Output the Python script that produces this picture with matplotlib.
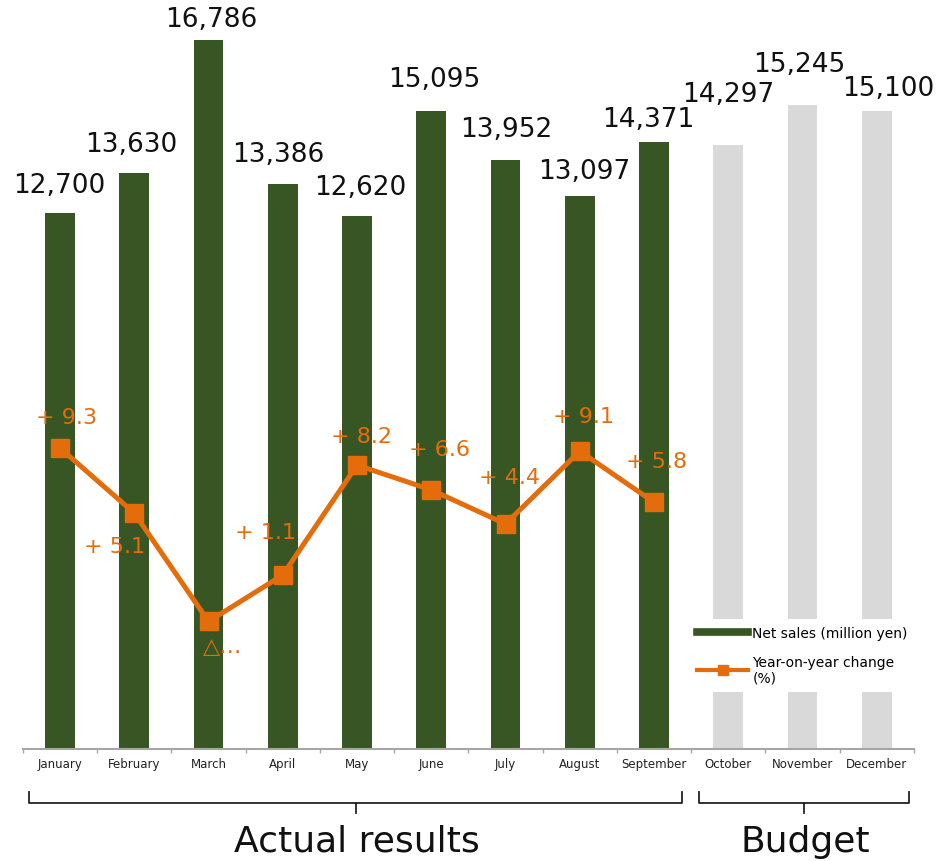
import matplotlib

matplotlib.use("Agg")
import matplotlib.pyplot as plt
import matplotlib.transforms as mtransforms
from matplotlib.lines import Line2D

months = ["January", "February", "March", "April", "May", "June", "July",
          "August", "September", "October", "November", "December"]
net_sales = [12700, 13630, 16786, 13386, 12620, 15095, 13952, 13097, 14371,
             14297, 15245, 15100]
n_actual = 9
yoy_change = [9.3, 5.1, -1.9, 1.1, 8.2, 6.6, 4.4, 9.1, 5.8]
yoy_labels = ["+ 9.3", "+ 5.1", "△…", "+ 1.1", "+ 8.2", "+ 6.6", "+ 4.4",
              "+ 9.1", "+ 5.8"]

GREEN = "#375623"
GREY = "#d9d9d9"
ORANGE = "#e46c0a"

# label nudges in pixels (dx, dy)
sales_nudge = [(-1, 28), (-3, 29), (3, 21), (-5, 30), (3, 29), (3, 32),
               (1, 31), (4, 25), (-6, 23), (0, 51), (-3, 41), (11, 23)]
yoy_nudge = [(6, 31), (-20, -33), (14, -25), (-17, 43), (4, 29), (8, 41),
             (4, 47), (4, 35), (3, 41)]

W, H = 937, 862
fig = plt.figure(figsize=(W / 100, H / 100), dpi=100)
ax = fig.add_axes([22.9 / W, 1 - 750 / H, 891 / W, 750 / H])
ax2 = ax.twinx()

x = list(range(len(months)))
colors = [GREEN] * n_actual + [GREY] * (len(months) - n_actual)
ax.bar(x, net_sales, width=0.40, color=colors, zorder=2)
ax.set_xlim(-0.5, len(months) - 0.5)
ax.set_ylim(0, 17756)

for i, v in enumerate(net_sales):
    dx, dy = sales_nudge[i]
    ax.annotate(f"{v:,}", (i, v), xytext=(dx, dy), textcoords="offset pixels",
                ha="center", va="center", fontsize=19, color="#111111")

ax2.plot(x[:n_actual], yoy_change, color=ORANGE, lw=3.6, marker="s",
         markersize=13, zorder=3)
ax2.set_ylim(-10.14, 38.31)
for i, (v, lab) in enumerate(zip(yoy_change, yoy_labels)):
    dx, dy = yoy_nudge[i]
    ax2.annotate(lab, (i, v), xytext=(dx, dy), textcoords="offset pixels",
                 ha="center", va="center", fontsize=16, color=ORANGE)

# axes styling: only a grey baseline with ticks between months
for a in (ax, ax2):
    for side in ("top", "left", "right"):
        a.spines[side].set_visible(False)
    a.set_yticks([])
ax2.spines["bottom"].set_visible(False)
ax.spines["bottom"].set_color("#a6a6a6")
ax.spines["bottom"].set_linewidth(1.5)
ax.set_xticks([i - 0.5 for i in range(len(months) + 1)])
ax.set_xticklabels([])
ax.set_xticks(x, minor=True)
ax.set_xticklabels(months, minor=True, fontsize=8.5, color="#222222")
ax.tick_params(axis="x", which="major", length=3, width=1, color="#a6a6a6")
ax.tick_params(axis="x", which="minor", length=0, pad=6)

handles = [
    Line2D([], [], color=GREEN, lw=5.5),
    Line2D([], [], color=ORANGE, lw=3, marker="s", markersize=7),
]
leg = ax2.legend(handles, ["Net sales (million yen)", "Year-on-year change\n(%)"],
                 loc="upper left", fontsize=10, frameon=True,
                 fancybox=False, framealpha=1, borderpad=0.5,
                 handlelength=3.7, handletextpad=0.3, labelspacing=1.05,
                 borderaxespad=0)
leg.get_frame().set_edgecolor("none")
leg.get_frame().set_facecolor("white")
leg.set_bbox_to_anchor((690, H - 620), transform=mtransforms.IdentityTransform())

# group brackets under the month labels
trans = mtransforms.blended_transform_factory(ax.transData, fig.transFigure)


def bracket(x0, x1, label):
    top, mid, stub = 1 - 793 / H, 1 - 804 / H, 1 - 814 / H
    xc = (x0 + x1) / 2
    ax.plot([x0, x0, x1, x1], [top, mid, mid, top], color="#222222", lw=1.3,
            transform=trans, clip_on=False)
    ax.plot([xc, xc], [mid, stub], color="#222222", lw=1.3,
            transform=trans, clip_on=False)
    ax.text(xc + 0.02, 1 - 842 / H, label, transform=trans, ha="center",
            va="center", fontsize=26, color="#111111")


bracket(-0.42, 8.38, "Actual results")
bracket(8.6, 11.43, "Budget")

fig.savefig("out.png", dpi=100)
